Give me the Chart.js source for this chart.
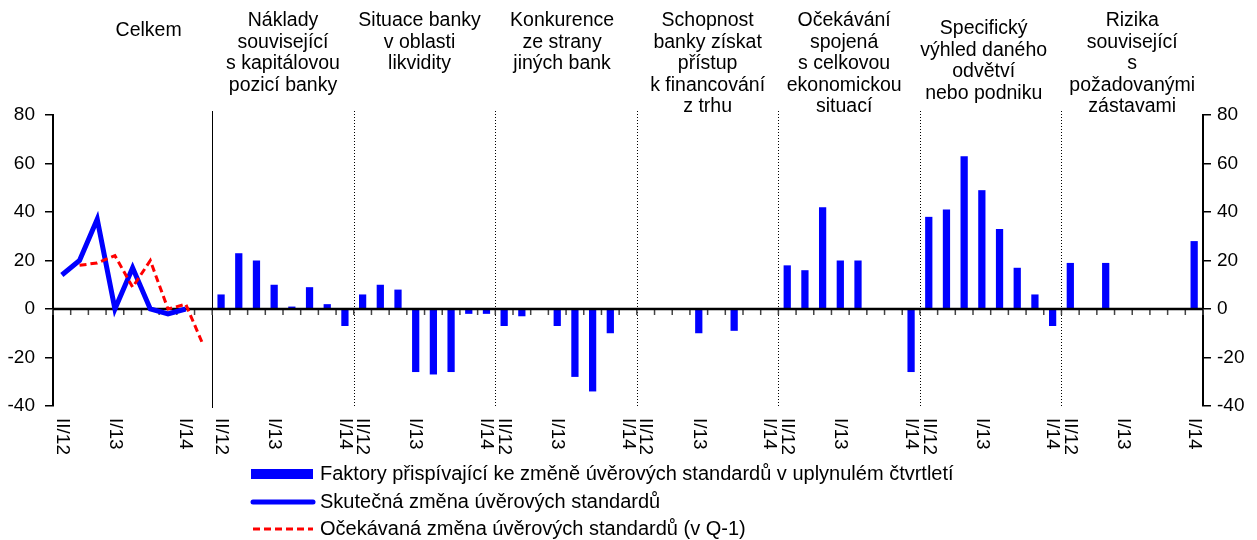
<!doctype html>
<html lang="cs">
  <head>
    <meta charset="utf-8">
    <title>Faktory změny úvěrových standardů</title>
    <style>
      * {
        margin: 0;
        padding: 0;
      }
      body {
        background: #fff;
      }
      .chartBox {
        width: 1257px;
        height: 540px;
      }
    </style>
  </head>
  <body>
    <div class="chartBox">
      <canvas id="myChart" width="1257" height="540"></canvas>
    </div>
    <script src="https://cdn.jsdelivr.net/npm/chart.js/dist/chart.umd.min.js"></script>
    <script>
    // quarters shown in every panel
    const quarters = ['II/12', 'III/12', 'IV/12', 'I/13', 'II/13', 'III/13', 'IV/13', 'I/14'];
    const nextQuarter = 'II/14';
    const shownTicks = ['II/12', 'I/13', 'I/14'];
    const yTicks = [-40, -20, 0, 20, 40, 60, 80];

    const panelTitles = [
      ['Celkem'],
      ['Náklady', 'související', 's kapitálovou', 'pozicí banky'],
      ['Situace banky', 'v oblasti', 'likvidity'],
      ['Konkurence', 'ze strany', 'jiných bank'],
      ['Schopnost', 'banky získat', 'přístup', 'k financování', 'z trhu'],
      ['Očekávání', 'spojená', 's celkovou', 'ekonomickou', 'situací'],
      ['Specifický', 'výhled daného', 'odvětví', 'nebo podniku'],
      ['Rizika', 'související', 's', 'požadovanými', 'zástavami']
    ];

    // Celkem panel (expected series runs one quarter further)
    const actualChange = [14, 20, 37, 0, 17, 0, -2, 0];
    const expectedChange = [null, 18, 19, 22, 9, 20, 0, 2, -15];

    // factor panels
    const capitalCosts = [6, 23, 20, 10, 1, 9, 2, -7];
    const liquidity = [6, 10, 8, -26, -27, -26, -2, -2];
    const competition = [-7, -3, 0, -7, -28, -34, -10, 0];
    const marketFinancing = [0, 0, 0, -10, 0, -9, 0, 0];
    const economicOutlook = [18, 16, 42, 20, 20, 0, 0, -26];
    const industryOutlook = [38, 41, 63, 49, 33, 17, 6, -7];
    const collateralRisk = [19, 0, 19, 0, 0, 0, 0, 28];

    // setup
    const factorPanels = [capitalCosts, liquidity, competition, marketFinancing,
      economicOutlook, industryOutlook, collateralRisk];

    const labels = quarters.concat([nextQuarter]);
    const panelStarts = [0];
    factorPanels.forEach(p => {
      panelStarts.push(labels.length);
      labels.push(...quarters);
    });
    const panelEnds = panelStarts.slice(1).map(s => s - 1).concat([labels.length - 1]);

    const pad = (arr) => arr.concat(new Array(labels.length - arr.length).fill(null));
    const barData = new Array(quarters.length + 1).fill(null);
    factorPanels.forEach(p => barData.push(...p));

    const data = {
      labels,
      datasets: [{
        type: 'bar',
        label: 'Faktory přispívající ke změně úvěrových standardů v uplynulém čtvrtletí',
        data: barData,
        backgroundColor: '#0000FF',
        borderWidth: 0,
        barPercentage: 0.41,
        categoryPercentage: 1,
        order: 3
      }, {
        type: 'line',
        label: 'Skutečná změna úvěrových standardů',
        data: pad(actualChange),
        borderColor: '#0000FF',
        borderWidth: 5,
        pointRadius: 0,
        tension: 0,
        order: 2
      }, {
        type: 'line',
        label: 'Očekávaná změna úvěrových standardů (v Q-1)',
        data: pad(expectedChange),
        borderColor: '#FF0000',
        borderWidth: 3,
        borderDash: [7, 4],
        pointRadius: 0,
        tension: 0,
        order: 1
      }]
    };

    const FONT = "'Liberation Sans', Arial, sans-serif";

    // panel separators, zero line, titles, rotated quarter labels, legend
    const panelsPlugin = {
      id: 'panels',
      beforeDatasetsDraw(chart) {
        const {ctx, chartArea, scales: {x}} = chart;
        ctx.save();
        ctx.strokeStyle = '#000';
        ctx.lineWidth = 1;
        panelStarts.slice(1).forEach((start, i) => {
          const px = Math.round((x.getPixelForValue(start - 1) + x.getPixelForValue(start)) / 2) + 0.5;
          ctx.setLineDash(i === 0 ? [] : [1, 2]);
          ctx.beginPath();
          ctx.moveTo(px, chartArea.top - 4);
          ctx.lineTo(px, chartArea.bottom + 2);
          ctx.stroke();
        });
        ctx.restore();
      },
      afterDatasetDraw(chart, args) {
        if (args.meta.type !== 'bar') return;
        const {ctx, chartArea, scales: {x, y}} = chart;
        const y0 = y.getPixelForValue(0);
        ctx.save();
        // tick marks between quarters
        ctx.strokeStyle = '#444';
        ctx.lineWidth = 1.5;
        for (let i = 0; i <= labels.length; i++) {
          let px;
          if (i === 0) px = chartArea.left;
          else if (i === labels.length) px = chartArea.right;
          else px = (x.getPixelForValue(i - 1) + x.getPixelForValue(i)) / 2;
          ctx.beginPath();
          ctx.moveTo(px, y0);
          ctx.lineTo(px, y0 + 6);
          ctx.stroke();
        }
        ctx.strokeStyle = '#000';
        ctx.lineWidth = 2.5;
        ctx.beginPath();
        ctx.moveTo(chartArea.left, y0);
        ctx.lineTo(chartArea.right, y0);
        ctx.stroke();
        ctx.restore();
      },
      afterDraw(chart) {
        const {ctx, chartArea, scales: {x}} = chart;
        ctx.save();
        ctx.fillStyle = '#000';

        // panel titles
        const titleDx = [16, 0, -5, -4, 0, -5, -7, 0];
        const titleDy = [10, 0, 0, 0, 0, 0, 8, 0];
        ctx.font = '19.5px ' + FONT;
        ctx.textAlign = 'center';
        ctx.textBaseline = 'alphabetic';
        panelTitles.forEach((lines, g) => {
          const cx = (x.getPixelForValue(panelStarts[g]) + x.getPixelForValue(panelEnds[g])) / 2 + titleDx[g];
          lines.forEach((line, k) => {
            ctx.fillText(line, cx, 26 + titleDy[g] + k * 21.5);
          });
        });

        // quarter labels, rotated clockwise
        ctx.font = '19px ' + FONT;
        ctx.textAlign = 'left';
        ctx.textBaseline = 'middle';
        labels.forEach((lab, i) => {
          if (!shownTicks.includes(lab)) return;
          ctx.save();
          ctx.translate(x.getPixelForValue(i), chartArea.bottom + 12);
          ctx.rotate(Math.PI / 2);
          ctx.fillText(lab, 0, 0);
          ctx.restore();
        });

        // legend
        ctx.font = '20px ' + FONT;
        ctx.textBaseline = 'middle';
        const lx = 251, lw = 62, tx = 320;
        const rows = [474, 502, 529];
        chart.data.datasets.forEach((ds, i) => {
          const ly = rows[i];
          if (ds.type === 'bar') {
            ctx.fillStyle = ds.backgroundColor;
            ctx.fillRect(lx, ly - 5, lw, 10);
          } else {
            ctx.strokeStyle = ds.borderColor;
            ctx.lineWidth = ds.borderWidth;
            ctx.lineCap = ds.borderDash ? 'butt' : 'round';
            ctx.setLineDash(ds.borderDash || []);
            ctx.beginPath();
            ctx.moveTo(lx + 2, ly);
            ctx.lineTo(lx + lw, ly);
            ctx.stroke();
            ctx.setLineDash([]);
          }
          ctx.fillStyle = '#000';
          ctx.fillText(ds.label, tx, ly);
        });
        ctx.restore();
      }
    };

    const axisY = (position, width, padding) => ({
      position,
      min: yTicks[0],
      max: yTicks[yTicks.length - 1],
      ticks: {
        stepSize: yTicks[1] - yTicks[0],
        color: '#000',
        font: { size: 19, family: FONT },
        padding
      },
      grid: {
        drawOnChartArea: false,
        drawTicks: true,
        tickLength: 8,
        color: '#000',
        lineWidth: 1.5
      },
      border: { color: '#000', width: 2 },
      afterFit(scale) { scale.width = width; }
    });

    // config
    const config = {
      type: 'bar',
      data,
      options: {
        responsive: false,
        animation: false,
        devicePixelRatio: 1,
        layout: { padding: { top: 115, bottom: 134, left: 0, right: 0 } },
        plugins: {
          legend: { display: false },
          tooltip: { enabled: false }
        },
        scales: {
          x: { display: false },
          y: axisY('left', 53, 10),
          y2: axisY('right', 54, 6)
        }
      },
      plugins: [panelsPlugin]
    };

    // render init block
    const myChart = new Chart(document.getElementById('myChart'), config);
    </script>
  </body>
</html>
